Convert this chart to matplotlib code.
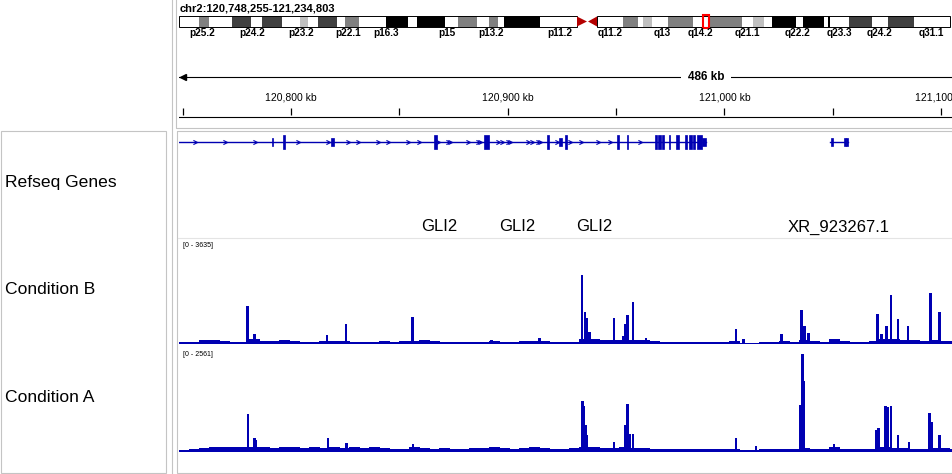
import numpy as np
import matplotlib
matplotlib.use("Agg")
import matplotlib.pyplot as plt
from matplotlib.patches import Rectangle, Polygon
from matplotlib.path import Path

plt.rcParams['font.family'] = ['Liberation Sans', 'DejaVu Sans']

W, H = 953, 474
BLUE = '#0000b2'
BORDER = '#c4c4c4'

# ---- data ----
locus = "chr2:120,748,255-121,234,803"
view_start_kb = 120748.255
view_end_kb = 121234.803
kb_per_px = 0.46154
screen_end_kb = view_start_kb + 774 * kb_per_px

# cytobands (positions on the drawn ideogram)
band_start = [179, 199, 209, 232, 251, 262, 282, 300, 308, 318, 337, 345, 359, 386, 408, 417, 445, 458, 477, 489,
              498, 504, 540, 597, 623, 638, 643, 652, 668, 693, 709, 742, 753, 764, 772, 796, 803, 824, 828, 830,
              849, 872, 888, 914]
band_end = [199, 209, 232, 251, 262, 282, 300, 308, 318, 337, 345, 359, 386, 408, 417, 445, 458, 477, 489, 498,
            504, 540, 577, 623, 638, 643, 652, 668, 693, 709, 742, 753, 764, 772, 796, 803, 824, 828, 830, 849,
            872, 888, 914, 950]
band_stain = ['gneg', 'gpos50', 'gneg', 'gpos75', 'gneg', 'gpos75', 'gneg', 'gpos25', 'gneg', 'gpos75', 'gneg',
              'gpos50', 'gneg', 'gpos100', 'gneg', 'gpos100', 'gneg', 'gpos50', 'gneg', 'gpos50', 'gneg',
              'gpos100', 'gneg',
              'gneg', 'gpos50', 'gneg', 'gpos25', 'gneg', 'gpos50', 'gneg', 'gpos50', 'gneg', 'gpos25', 'gneg',
              'gpos100', 'gneg', 'gpos100', 'gneg', 'gpos100', 'gneg', 'gpos75', 'gneg', 'gpos75', 'gneg']
band_names = ['p25.2', 'p24.2', 'p23.2', 'p22.1', 'p16.3', 'p15', 'p13.2', 'p11.2',
              'q11.2', 'q13', 'q14.2', 'q21.1', 'q22.2', 'q23.3', 'q24.2', 'q31.1']
band_label_pos = [202, 252, 301, 348, 386, 447, 491, 560, 610, 662, 700, 747, 798, 839, 880, 931]
stain_color = {'gneg': 'white', 'gpos25': '#c0c0c0', 'gpos50': '#808080', 'gpos75': '#404040', 'gpos100': 'black'}

# ruler
tick_kb = [120750, 120800, 120850, 120900, 120950, 121000, 121050, 121100]
label_kb = [120800, 120900, 121000, 121100]

# Refseq genes
gene_line_kb = [(120748.3, 120991.7), (121048.9, 121056.8)]
exon_start = [120796.4, 120866.1, 120889.2, 120918.3, 120926.6, 120950.6, 120954.8, 120968.1, 120969.5,
              120971.4, 120974.2, 120977.8, 120982.0, 120983.8, 120985.7, 120987.5]
exon_end = [120797.4, 120867.5, 120891.5, 120919.2, 120927.5, 120951.5, 120955.7, 120969.1, 120970.5,
            120972.3, 120975.1, 120978.8, 120982.7, 120984.8, 120986.6, 120989.8]
utr_start = [120791.1, 120818.6, 120923.8, 120989.8, 121049.3, 121055.4, 121056.1]
utr_end = [120791.6, 120820.0, 120925.2, 120991.7, 121050.1, 121055.9, 121056.8]
chevron_kb = [120755.8, 120769.7, 120783.5, 120803.4, 120817.2, 120826.4, 120831.1, 120840.3, 120844.9,
              120854.1, 120858.8, 120868.0, 120872.6, 120873.5, 120881.8, 120886.4, 120887.4, 120895.7,
              120897.5, 120900.3, 120901.2, 120909.5, 120911.4, 120914.1, 120915.1, 120922.9, 120928.5,
              120934.0, 120941.8, 120947.4, 120961.2]
gene_names = ['GLI2', 'GLI2', 'GLI2', 'XR_923267.1']
gene_name_kb = [120868.4, 120904.4, 120940.0, 121052.5]

# coverage: background level per ~4.6 kb bin plus peaks
bg_b = [60, 80, 150, 140, 110, 80, 80, 170, 110, 100, 130, 110, 80, 80, 100, 90, 100, 70, 80, 70,
        90, 80, 110, 110, 120, 90, 80, 70, 80, 70, 80, 100, 80, 80, 90, 100, 100, 80, 70, 80,
        170, 160, 130, 120, 150, 140, 130, 90, 80, 70, 80, 70, 70, 80, 70, 90, 40, 30, 80, 70,
        90, 80, 120, 90, 80, 160, 90, 80, 80, 100, 170, 180, 130, 120, 100, 130, 110, 90]
bg_a = [50, 60, 100, 110, 120, 110, 110, 130, 110, 100, 110, 110, 100, 110, 100, 120, 100, 110, 90, 110,
        100, 80, 80, 110, 100, 80, 90, 80, 80, 90, 100, 110, 90, 80, 90, 110, 90, 80, 80, 90,
        120, 110, 100, 90, 110, 100, 90, 80, 70, 70, 60, 70, 80, 70, 60, 80, 40, 40, 60, 60,
        60, 70, 90, 70, 60, 110, 70, 70, 80, 80, 110, 100, 90, 80, 70, 90, 90, 80]
peak_b_kb = [120779.8, 120783.1, 120816.5, 120825.3, 120856.0, 120892.5, 120914.7, 120934.2, 120935.6,
             120936.5, 120937.7, 120949.0, 120953.4, 120954.3, 120955.2, 120957.8, 120963.8, 121005.3,
             121008.8, 121026.3, 121035.7, 121036.9, 121038.8, 121070.6, 121072.5, 121074.9, 121076.8,
             121080.1, 121084.7, 121095.1, 121099.2]
peak_b_val = [1290, 340, 300, 680, 920, 150, 200, 2345, 1090, 880, 410, 880, 270, 680, 990, 1430, 200, 510,
              170, 340, 1155, 610, 370, 1020, 340, 610, 1665, 850, 610, 1735, 1090]
peak_a_kb = [120780.1, 120783.1, 120783.8, 120817.0, 120825.5, 120856.2, 120934.4, 120935.1, 120935.8,
             120936.5, 120949.0, 120954.3, 120955.2, 120956.2, 120957.8, 121005.3, 121014.5, 121035.2,
             121035.9, 121036.6, 121050.5, 121070.1, 121071.1, 121074.3, 121075.2, 121076.8, 121080.1,
             121085.2, 121094.6, 121095.6, 121099.2]
peak_a_val = [900, 330, 285, 330, 215, 190, 1210, 1090, 640, 400, 240, 640, 1135, 430, 430, 330, 140, 1110,
              2320, 1680, 190, 520, 570, 1090, 1065, 1090, 400, 240, 920, 710, 400]
range_b = 3635
range_a = 2561
track_names = ['Refseq Genes', 'Condition B', 'Condition A']


def px_axes(x0, y0, x1, y1):
    ax = fig.add_axes([x0 / W, 1 - y1 / H, (x1 - x0) / W, (y1 - y0) / H])
    ax.set_axis_off()
    return ax


fig = plt.figure(figsize=(W / 100, H / 100), dpi=100)

# base layer in pixel coordinates: panel borders, names, ideogram
base = px_axes(0, 0, W, H)
base.set_xlim(0, W)
base.set_ylim(H, 0)
base.plot([172.5, 172.5], [0, H], color=BORDER, lw=0.8)
base.plot([176.5, 176.5, W], [0, 127.5, 127.5], color=BORDER, lw=0.8)
base.add_patch(Rectangle((0.5, 130.5), 166, 342.5, fill=False, ec=BORDER, lw=0.8))
base.add_patch(Rectangle((177.5, 130.5), W, 342.5, fill=False, ec=BORDER, lw=0.8))
base.plot([178, W], [237.5, 237.5], color='#e4e4e4', lw=0.8)

for name, y in zip(track_names, [183, 290, 397]):
    base.text(5, y, name, fontsize=12.6, va='center', ha='left')

base.text(180, 8, locus, fontsize=8, fontweight='bold', va='center', ha='left')
for s, e, st in zip(band_start, band_end, band_stain):
    base.add_patch(Rectangle((s, 16), e - s, 10.5, fc=stain_color[st], ec='none'))
base.add_patch(Rectangle((179, 16), 577 - 179, 10.5, fill=False, ec='black', lw=0.7))
base.add_patch(Rectangle((597, 16), 950 - 597, 10.5, fill=False, ec='black', lw=0.7))
base.add_patch(Polygon([(577, 16.5), (577, 26.5), (587, 21.5)], fc='#b40000', ec='none'))
base.add_patch(Polygon([(597, 16.5), (597, 26.5), (588, 21.5)], fc='#b40000', ec='none'))
base.add_patch(Rectangle((703, 15), 6, 13, fill=False, ec='#ff0000', lw=1.5))
for name, x in zip(band_names, band_label_pos):
    base.text(x, 32.5, name, fontsize=7.2, fontweight='bold', ha='center', va='center')

base.text(183, 245, "[0 - %d]" % range_b, fontsize=5, va='center', ha='left')
base.text(183, 355, "[0 - %d]" % range_a, fontsize=5, va='center', ha='left')

# ruler
ruler = px_axes(179, 60, W, 127)
ruler.set_xlim(view_start_kb, screen_end_kb)
ruler.set_ylim(127, 60)
ruler.plot([view_start_kb, view_end_kb], [77, 77], color='black', lw=0.8)
ruler.plot([view_start_kb + 2.0], [77], marker='<', ms=4.5, color='black')
mid_kb = (view_start_kb + view_end_kb) / 2
ruler.text(mid_kb, 77, "%d kb" % int(view_end_kb - view_start_kb), fontsize=8.5, fontweight='bold',
           ha='center', va='center', bbox=dict(fc='white', ec='none', pad=5))
ruler.vlines(tick_kb, 108, 115, color='black', lw=0.9)
ruler.plot([view_start_kb, screen_end_kb], [117, 117], color='black', lw=0.8)
for k in label_kb:
    ruler.text(k, 98, "{:,} kb".format(k), fontsize=7.5, ha='center', va='center', clip_on=False)

# gene track
genes = px_axes(179, 130, W, 237)
genes.set_xlim(view_start_kb, screen_end_kb)
genes.set_ylim(237, 130)
for s, e in gene_line_kb:
    genes.plot([s, e], [142, 142], color=BLUE, lw=1)
for s, e in zip(exon_start, exon_end):
    genes.add_patch(Rectangle((s, 135), e - s, 14, fc=BLUE, ec=BLUE, lw=0.5))
for s, e in zip(utr_start, utr_end):
    genes.add_patch(Rectangle((s, 138), e - s, 8, fc=BLUE, ec=BLUE, lw=0.5))
chev = Path([(-1, 1), (1, 0), (-1, -1)], [Path.MOVETO, Path.LINETO, Path.LINETO])
genes.plot(chevron_kb, [142] * len(chevron_kb), ls='none', marker=chev, ms=3, mfc='none', mec=BLUE, mew=0.8)
for name, k in zip(gene_names, gene_name_kb):
    genes.text(k, 227, name, fontsize=12, ha='center', va='center')

# coverage tracks
bin_kb = 10 * kb_per_px
bin_left = view_start_kb + np.arange(len(bg_b)) * bin_kb
for (y0, y1, bg, pk, pv, top) in [(237, 344, bg_b, peak_b_kb, peak_b_val, range_b),
                                   (344, 452, bg_a, peak_a_kb, peak_a_val, range_a)]:
    ax = px_axes(179, y0, W, y1)
    ax.set_xlim(view_start_kb, screen_end_kb)
    ax.set_ylim(0, top)
    ax.bar(bin_left, bg, width=bin_kb * 1.08, align='edge', color=BLUE, lw=0, antialiased=False)
    ax.bar(pk, pv, width=1.2, color=BLUE, lw=0, antialiased=False)

fig.savefig("out.png", dpi=100)
